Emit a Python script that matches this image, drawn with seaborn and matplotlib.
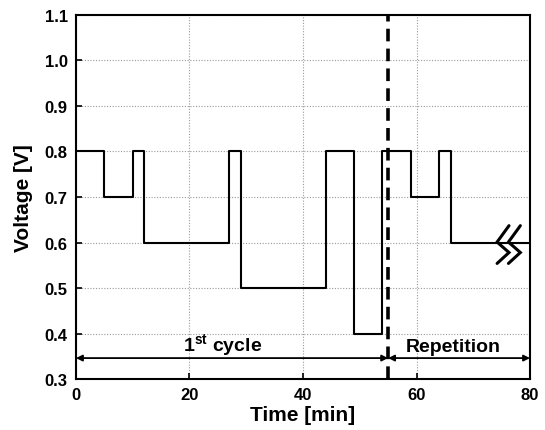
import matplotlib
matplotlib.use("Agg")
import matplotlib.pyplot as plt
import seaborn as sns
import pandas as pd

# Voltage schedule: each level holds from its start time until the next one
step_times = [0, 5, 10, 12, 27, 29, 44, 49, 54, 59, 64, 66, 80]
step_volts = [0.8, 0.7, 0.8, 0.6, 0.8, 0.5, 0.8, 0.4, 0.8, 0.7, 0.8, 0.6, 0.6]
cycle_end = 55
x_ticks = [0, 20, 40, 60, 80]
y_ticks = [0.3, 0.4, 0.5, 0.6, 0.7, 0.8, 0.9, 1.0, 1.1]

sns.set_theme(style="white")
plt.rcParams["font.family"] = ["Liberation Sans", "DejaVu Sans"]
plt.rcParams["font.weight"] = "bold"
plt.rcParams["text.color"] = "black"
plt.rcParams["axes.labelcolor"] = "black"
plt.rcParams["xtick.color"] = "black"
plt.rcParams["ytick.color"] = "black"
plt.rcParams["mathtext.fontset"] = "custom"
plt.rcParams["mathtext.bf"] = "Liberation Sans:bold"
plt.rcParams["mathtext.rm"] = "Liberation Sans:bold"

df = pd.DataFrame({"Time": step_times, "Voltage": step_volts})

fig = plt.figure(figsize=(5.45, 4.31), dpi=100)
ax = fig.add_axes([0.1394, 0.1183, 0.8331, 0.8446])

sns.lineplot(data=df, x="Time", y="Voltage", ax=ax, drawstyle="steps-post",
             color="black", linewidth=1.5, zorder=3)

ax.set_xlim(0, 80)
ax.set_ylim(0.3, 1.1)
ax.set_xticks(x_ticks)
ax.set_yticks(y_ticks)
ax.set_yticklabels([f"{v:.1f}" for v in y_ticks])
ax.grid(True, linestyle=(0, (1, 1.5)), color="#9a9a9a", linewidth=0.8)
ax.tick_params(direction="in", length=4, width=1.2, labelsize=12,
               bottom=True, left=True, pad=6, colors="black")
for lab in ax.get_xticklabels() + ax.get_yticklabels():
    lab.set_fontweight("bold")
for sp in ax.spines.values():
    sp.set_color("black")
    sp.set_linewidth(1.5)

ax.set_xlabel("Time [min]", fontsize=15, fontweight="bold", labelpad=2)
ax.set_ylabel("Voltage [V]", fontsize=15, fontweight="bold", labelpad=8)

# Boundary between the first cycle and the repeated part
ax.axvline(cycle_end, color="black", linewidth=2.6, linestyle=(0, (3.5, 2)), zorder=4)

# Span arrows
arrow_y = 0.346
ax.annotate("", xy=(0, arrow_y), xytext=(cycle_end, arrow_y),
            arrowprops=dict(arrowstyle="<|-|>", color="black", lw=1.3,
                            mutation_scale=9, shrinkA=0, shrinkB=0))
ax.annotate("", xy=(cycle_end, arrow_y), xytext=(80, arrow_y),
            arrowprops=dict(arrowstyle="<|-|>", color="black", lw=1.3,
                            mutation_scale=9, shrinkA=0, shrinkB=0))
ax.text(25.9, 0.362, r"1$^{\mathbf{st}}$ cycle", ha="center", va="baseline",
        fontsize=14, fontweight="bold")
ax.text(66.4, 0.362, "Repetition", ha="center", va="baseline",
        fontsize=14, fontweight="bold")

# Axis-break mark on the last level
bx = [76.3, 74.2, 76.3, 74.2]
by = [0.637, 0.601, 0.578, 0.554]
for off in (0.0, 2.0):
    ax.plot([x + off for x in bx], by, color="black", linewidth=2.2,
            solid_joinstyle="miter", zorder=5, clip_on=False)

fig.savefig("out.png", dpi=100)
